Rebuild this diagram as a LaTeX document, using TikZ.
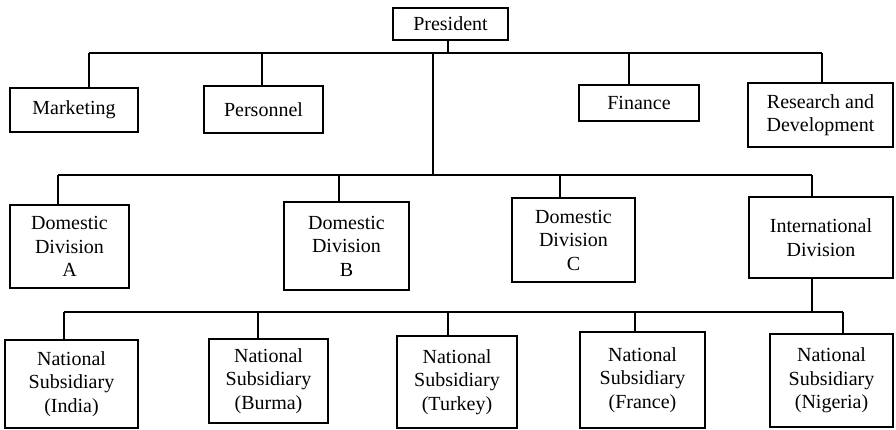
\documentclass[tikz,border=0pt]{standalone}
\usepackage{fontspec}
\setmainfont{Liberation Serif}
\begin{document}
\begin{tikzpicture}[x=1pt,y=-1pt,
  unit/.style={draw, line width=1.6pt, inner sep=0pt, align=center,
    font=\fontsize{20}{23.5}\selectfont},
  link/.style={line width=1.6pt}]
\useasboundingbox (0,0) rectangle (896,430);

% top level
\node[unit, minimum width=115pt, minimum height=32pt] (pres) at (450.5,24) {President};

% staff departments
\node[unit, minimum width=128pt, minimum height=44pt] (mkt)  at (74,110)    {Marketing};
\node[unit, minimum width=119pt, minimum height=47pt] (pers) at (263.5,109.5) {Personnel};
\node[unit, minimum width=120pt, minimum height=36pt] (fin)  at (639,103)   {Finance};
\node[unit, minimum width=145pt, minimum height=64pt] (rnd)  at (820.5,115) {Research and\\Development};

% divisions
\node[unit, minimum width=119pt, minimum height=83pt] (dA)   at (69.5,246.5) {Domestic\\Division\\A};
\node[unit, minimum width=125pt, minimum height=88pt] (dB)   at (346.5,246)  {Domestic\\Division\\B};
\node[unit, minimum width=123pt, minimum height=84pt] (dC)   at (573.5,240)  {Domestic\\Division\\C};
\node[unit, minimum width=144pt, minimum height=81pt] (intl) at (821,237.5)  {International\\Division};

% national subsidiaries
\node[unit, minimum width=133pt, minimum height=88pt] (nsI) at (71.5,384)  {National\\Subsidiary\\(India)};
\node[unit, minimum width=119pt, minimum height=84pt] (nsB) at (268.5,381) {National\\Subsidiary\\(Burma)};
\node[unit, minimum width=120pt, minimum height=92pt] (nsT) at (457,382)   {National\\Subsidiary\\(Turkey)};
\node[unit, minimum width=125pt, minimum height=96pt] (nsF) at (642.5,380) {National\\Subsidiary\\(France)};
\node[unit, minimum width=123pt, minimum height=93pt] (nsN) at (831.5,380.5) {National\\Subsidiary\\(Nigeria)};

% bus junction points
\coordinate (pj)  at (448,53);
\coordinate (b1L) at (89,53);
\coordinate (b1R) at (822,53);
\coordinate (tr)  at (433,53);
\coordinate (b2)  at (433,175);
\coordinate (b2L) at (58,175);
\coordinate (b2R) at (812,175);
\coordinate (b3)  at (812,312);
\coordinate (b3L) at (64,312);
\coordinate (b3R) at (843,312);

% first level bus
\draw[link] (pres.south -| pj) -- (pj);
\draw[link] (b1L) -- (b1R);
\draw[link] (b1L) -- (b1L |- mkt.north);
\draw[link] (262,53) -- (262,0 |- pers.north);
\draw[link] (629,53) -- (629,0 |- fin.north);
\draw[link] (b1R) -- (b1R |- rnd.north);
\draw[link] (tr) -- (b2);

% second level bus
\draw[link] (b2L) -- (b2R);
\draw[link] (b2L) -- (b2L |- dA.north);
\draw[link] (339,175) -- (339,0 |- dB.north);
\draw[link] (560,175) -- (560,0 |- dC.north);
\draw[link] (b2R) -- (b2R |- intl.north);

% third level bus
\draw[link] (intl.south -| b3) -- (b3);
\draw[link] (b3L) -- (b3R);
\draw[link] (b3L) -- (b3L |- nsI.north);
\draw[link] (258,312) -- (258,0 |- nsB.north);
\draw[link] (448,312) -- (448,0 |- nsT.north);
\draw[link] (635,312) -- (635,0 |- nsF.north);
\draw[link] (b3R) -- (b3R |- nsN.north);
\end{tikzpicture}
\end{document}
